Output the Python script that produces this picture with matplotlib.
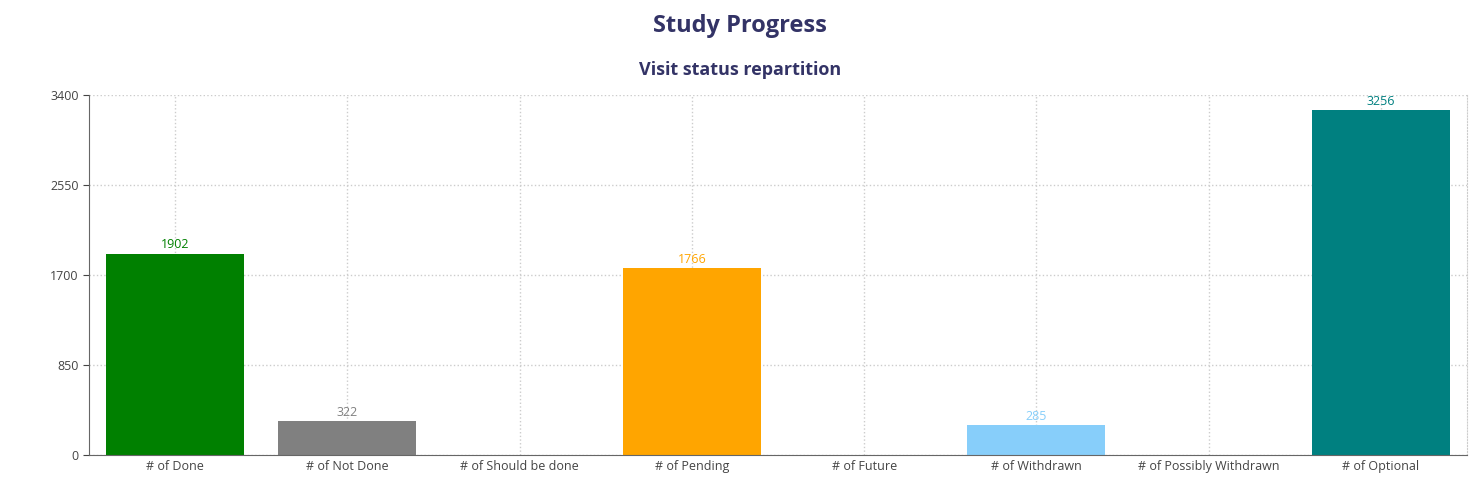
import matplotlib.pyplot as plt

categories = ['# of Done', '# of Not Done', '# of Should be done', '# of Pending',
              '# of Future', '# of Withdrawn', '# of Possibly Withdrawn', '# of Optional']
values = [1902, 322, 0, 1766, 0, 285, 0, 3256]
colors = ['#008000', '#808080', '#cccccc', '#ffa500', '#cccccc', '#87cefa', '#cccccc', '#008080']
yticks = [0, 850, 1700, 2550, 3400]

plt.rcParams['font.family'] = ['Open Sans', 'DejaVu Sans']
fig = plt.figure(figsize=(14.8, 4.94), dpi=100)
ax = fig.add_axes([89 / 1480, 39 / 494, (1467 - 89) / 1480, 360 / 494])

x = range(len(categories))
bars = ax.bar(x, values, width=0.8, color=colors)
for xi, v, c in zip(x, values, colors):
    if v > 0:
        ax.text(xi, v + 20, str(v), ha='center', va='bottom', fontsize=9, color=c)

ax.set_xlim(-0.5, len(categories) - 0.5)
ax.set_ylim(0, 3400)
ax.set_yticks(yticks)
ax.set_xticks(list(x))
ax.set_xticklabels(categories)
ax.tick_params(axis='both', labelsize=9, colors='#444444', length=4)
ax.tick_params(axis='x', length=0)
ax.grid(True, linestyle=':', color='#cccccc', linewidth=1)
ax.set_axisbelow(True)
for s in ['top']:
    ax.spines[s].set_visible(False)
ax.spines['right'].set_linestyle(':')
ax.spines['right'].set_color('#cccccc')
ax.spines['left'].set_color('#666666')
ax.spines['bottom'].set_color('#666666')

fig.text(0.5, 1 - 26 / 494, 'Study Progress', ha='center', va='center',
         fontsize=17, fontweight='bold', color='#333366')
fig.text(0.5, 1 - 70 / 494, 'Visit status repartition', ha='center', va='center',
         fontsize=13, fontweight='bold', color='#333366')

fig.savefig('out.png', dpi=100)
